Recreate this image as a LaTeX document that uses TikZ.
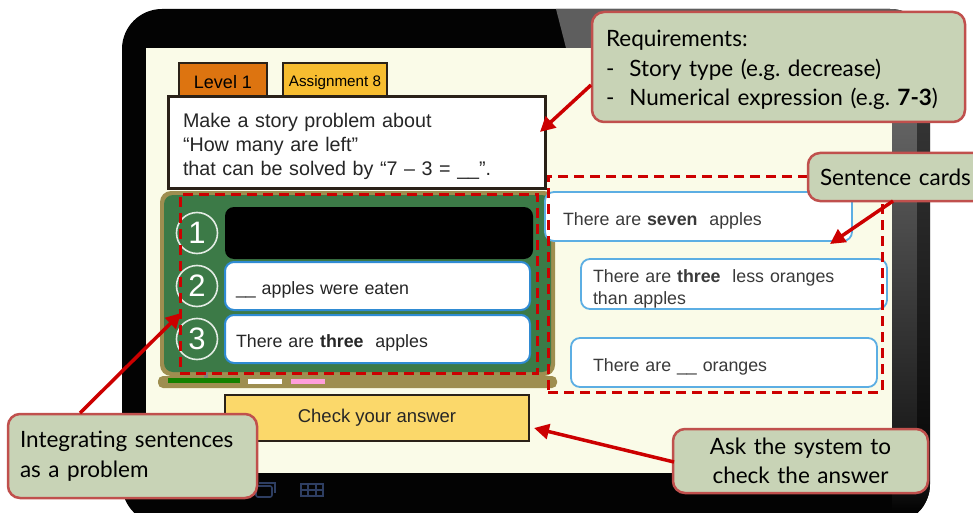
\documentclass[tikz,border=0pt]{standalone}
\usepackage{fontspec}
\setmainfont{Liberation Sans}
\newfontfamily\callfont{Lato}
\usetikzlibrary{arrows.meta}

\definecolor{bezel}{HTML}{030303}
\definecolor{bezelgray}{HTML}{5E5E5E}
\definecolor{screencream}{HTML}{FAFBE8}
\definecolor{tabdark}{HTML}{2A2118}
\definecolor{lvorange}{HTML}{DD7410}
\definecolor{asgyellow}{HTML}{F7BD30}
\definecolor{boardgreen}{HTML}{3C7A47}
\definecolor{boardrim}{HTML}{9E8E50}
\definecolor{slotblue}{HTML}{2F8BD3}
\definecolor{cardblue}{HTML}{5CAEE3}
\definecolor{markred}{HTML}{CC0000}
\definecolor{calloutfill}{HTML}{C8D3B6}
\definecolor{calloutedge}{HTML}{C0504D}
\definecolor{btnyellow}{HTML}{FBD86A}
\definecolor{uitext}{HTML}{262626}
\definecolor{cardtext}{HTML}{3A3A3A}
\definecolor{iconblue}{HTML}{2E3E62}

% a strut that lowers the first text line of a box a little
\newcommand{\lowstrut}[1]{\rule{0pt}{#1}}

\tikzset{
  box/.style={rectangle, inner sep=0pt, outer sep=0pt},
  tabbox/.style={box, draw=tabdark, line width=2.5pt, text=black,
    font=\fontsize{18}{21}\selectfont},
  slotbox/.style={box, rounded corners=9pt, fill=white, draw=slotblue,
    line width=2pt, text=uitext, align=left,
    font=\fontsize{17.8}{22}\selectfont},
  cardbox/.style={box, rounded corners=9pt, fill=white, draw=cardblue,
    line width=1.8pt, text=cardtext, align=left,
    font=\fontsize{17.8}{22}\selectfont},
  callout/.style={box, rounded corners=12pt, fill=calloutfill,
    draw=calloutedge, line width=2.5pt, text=black,
    font=\callfont\fontsize{22.5}{29.5}\selectfont},
  markframe/.style={draw=markred, line width=3pt, dash pattern=on 10pt off 6pt},
  pointer/.style={draw=markred, line width=3.5pt,
    -{Triangle[length=15pt,width=15pt]}, shorten >=0pt},
  numring/.style={circle, draw=white!85!boardgreen, line width=1.6pt,
    minimum size=41pt, inner sep=0pt, text=white,
    font=\fontsize{31}{31}\selectfont},
}

\begin{document}
\begin{tikzpicture}[x=1pt,y=-1pt]
\useasboundingbox (0,0) rectangle (973,513);
\begin{scope}
\clip (0,0) rectangle (973,513);

% tablet body
\fill[bezel, rounded corners=40pt] (122,9) rectangle (930,524);
% light reflection on the upper right of the bezel
\begin{scope}
  \clip[rounded corners=40pt] (122,9) rectangle (930,524);
  \fill[bezelgray] (556,9) -- (930,9) -- (930,48) -- (566,48) -- cycle;
  \shade[top color=black!55, bottom color=black!92]
    (892,48) rectangle (917,470);
  \shade[top color=black!76, bottom color=black!97]
    (917,48) rectangle (930,470);
  \shade[top color=black!88, bottom color=bezel]
    (892,470) rectangle (930,510);
\end{scope}

% navigation icons in the bottom bezel
\begin{scope}[draw=iconblue, line width=1.6pt]
  \draw[rounded corners=2pt] (164,486) rectangle (184,497);
  \draw[rounded corners=2pt] (207,486) rectangle (227,497);
  \draw[rounded corners=2pt] (256,486) rectangle (272,497);
  \draw (259,483) -- (275,483) -- (275,493);
  \draw (301,484) rectangle (323,496);
  \draw (301,490) -- (323,490) (308,484) -- (308,496) (316,484) -- (316,496);
\end{scope}

% screen
\fill[screencream] (146,48) rectangle (892,473);

% tabs and task statement
\node[tabbox, fill=lvorange, minimum width=88pt, minimum height=40pt,
  anchor=north west] (level) at (179,63) {\raisebox{2pt}{Level 1}};
\node[tabbox, fill=asgyellow, minimum width=104pt, minimum height=40pt,
  anchor=north west, font=\fontsize{15.2}{18}\selectfont]
  (assign) at (283,63) {\raisebox{2pt}{Assignment 8}};
\node[box, fill=white, draw=tabdark, line width=3pt, minimum width=377pt,
  minimum height=91pt, anchor=north west, align=left, text=uitext,
  text width=347pt, font=\fontsize{19.7}{24}\selectfont]
  (task) at (168,97) {\lowstrut{23pt}Make a story problem about\\
  “How many are left”\\
  that can be solved by “7 – 3 = \_\_”.};

% answer board
\fill[boardrim, rounded corners=11pt] (160,191) rectangle (555,376);
\fill[boardgreen, rounded corners=9pt] (164,195) rectangle (551,372);
\fill[boardrim, rounded corners=5pt] (158,376) rectangle (557,388);
\fill[gray] (204,372) rectangle (208,378);
\fill[green!45!black!90!lime] (168,378) rectangle (240,383);
\fill[white] (248,379) rectangle (282,384);
\fill[pink!70!magenta!80!white] (291,379) rectangle (325,384);

\node[numring] (n1) at (197,233) {1};
\node[numring] (n2) at (197,286) {2};
\node[numring] (n3) at (197,339) {3};

\node[box, fill=black, rounded corners=9pt, minimum width=308pt,
  minimum height=52pt, anchor=north west] (slot1) at (225,207) {};
\node[slotbox, minimum width=305pt, minimum height=48pt, text width=283pt,
  anchor=north west] (slot2) at (225,262)
  {\lowstrut{21pt}\_\_ apples were eaten};
\node[slotbox, minimum width=305pt, minimum height=48pt, text width=283pt,
  anchor=north west] (slot3) at (225,315)
  {\lowstrut{20pt}There are \textbf{three}\ \ apples};

\node[box, markframe, minimum width=357pt, minimum height=179pt,
  anchor=north west] (boardframe) at (180,194) {};

% sentence cards
\node[cardbox, minimum width=307pt, minimum height=49pt, text width=271pt,
  anchor=north west] (card1) at (545,192)
  {\lowstrut{21pt}There are \textbf{seven}\ \ apples};
\node[cardbox, minimum width=306pt, minimum height=50pt, text width=282pt,
  anchor=north west] (card2) at (581,259)
  {\lowstrut{22pt}There are \textbf{three}\ \ less oranges\\than apples};
\node[cardbox, minimum width=306pt, minimum height=49pt, text width=262pt,
  anchor=north west] (card3) at (571,338)
  {\lowstrut{22pt}There are \_\_ oranges};

\node[box, markframe, minimum width=334pt, minimum height=216pt,
  anchor=north west] (cardframe) at (548,176) {};

% check button
\node[box, fill=btnyellow, draw=tabdark, line width=2.5pt,
  minimum width=304pt, minimum height=46pt, anchor=north west, text=uitext,
  font=\fontsize{18.5}{20}\selectfont] (check) at (225,395) {Check your answer};

\end{scope}

% callouts
\node[callout, minimum width=373pt, minimum height=110pt, anchor=north west,
  align=left, text width=345pt] (req) at (592,12)
  {\lowstrut{23pt}Requirements:\\
  -\ \ Story type (e.g.\ decrease)\\
  -\ \ Numerical expression (e.g.\ \textbf{7-3})};
\node[callout, minimum width=190pt, minimum height=48pt, anchor=north west,
  align=left, text width=170pt] (cardsnote) at (808,153)
  {\hspace{2pt}Sentence cards};
\node[callout, minimum width=249pt, minimum height=84pt, anchor=north west,
  align=left, text width=225pt] (integ) at (8,414)
  {Integrating sentences\\as a problem};
\node[callout, minimum width=255pt, minimum height=64pt, anchor=north west,
  align=center, text width=245pt] (asksys) at (673,429)
  {Ask the system to\\check the answer};

% pointers
\coordinate (reqtip) at (540,132);
\coordinate (cardtip) at (830,244);
\coordinate (boardtip) at (181,313);
\coordinate (checktip) at (534,428);
\coordinate (reqfoot) at (591,85);
\coordinate (cardfoot) at (893,201);
\coordinate (integfoot) at (80,413);
\coordinate (askfoot) at (674,462);
\draw[pointer] (reqfoot) -- (reqtip);
\draw[pointer] (cardfoot) -- (cardtip);
\draw[pointer] (integfoot) -- (boardtip);
\draw[pointer] (askfoot) -- (checktip);
\end{tikzpicture}
\end{document}
